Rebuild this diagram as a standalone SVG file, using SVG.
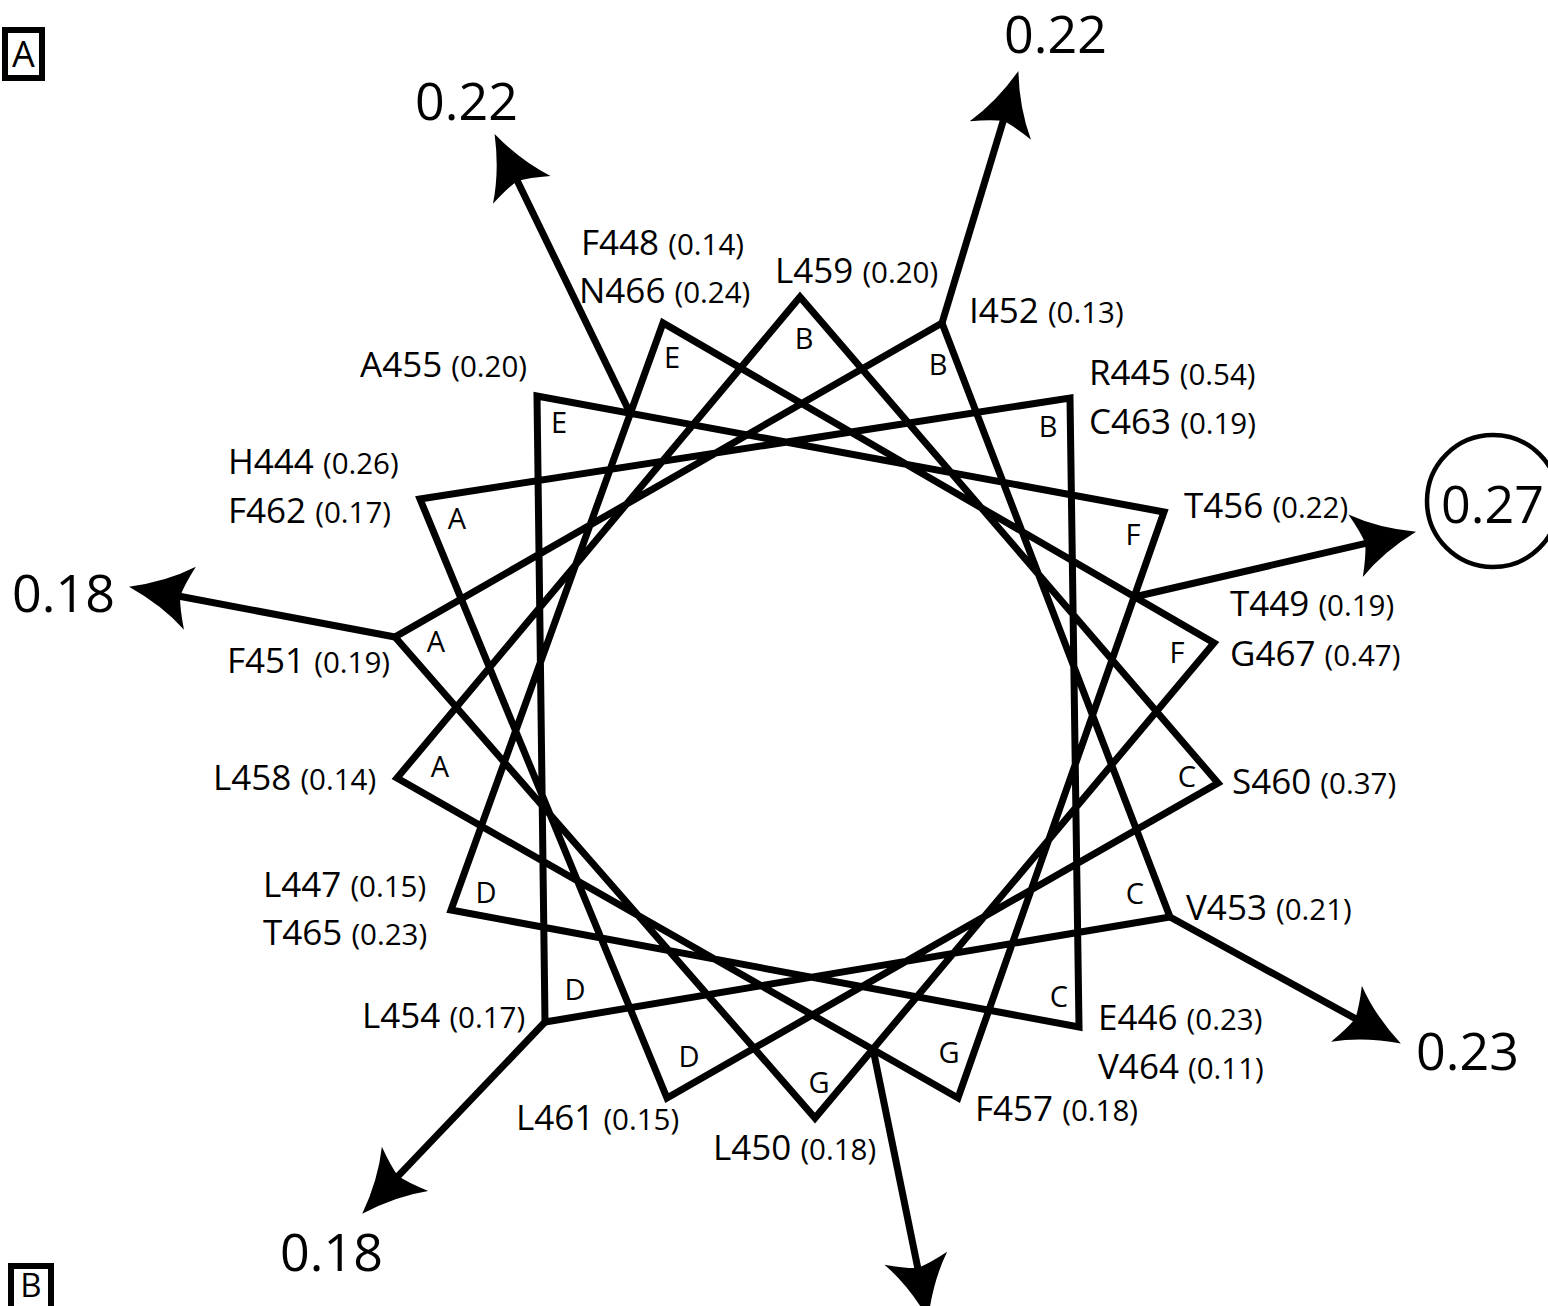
<svg xmlns="http://www.w3.org/2000/svg" width="1548" height="1306" viewBox="0 0 1548 1306">
  <defs>
    <style>
      text { font-family: "Open Sans", "Noto Sans", "DejaVu Sans", sans-serif; fill: #000; }
      .res { font-size: 35px; }
      .res tspan { font-size: 29.5px; }
      .pos { font-size: 29px; text-anchor: middle; }
      .mag { font-size: 52px; }
      .panel-letter { font-size: 36px; text-anchor: middle; }
      .wheel { fill: none; stroke: #000; stroke-width: 7; stroke-linejoin: miter; stroke-miterlimit: 10; }
      .vec { fill: none; stroke: #000; stroke-width: 7; marker-end: url(#head); }
      .panel { fill: #fff; stroke: #000; stroke-width: 6; }
      .ring { fill: none; stroke: #000; stroke-width: 4.5; }
    </style>
    <!-- swept-back arrowhead; the shaft ends at the notch, the tip lies 46 units further on -->
    <marker id="head" markerUnits="userSpaceOnUse" orient="auto" viewBox="-20 -35 70 70" markerWidth="70" markerHeight="70" refX="0" refY="0" overflow="visible">
      <path d="M46,0 Q10,-12 -16,-32 Q-8,-12 -6,0 Q-8,12 -16,32 Q10,12 46,0 Z" fill="#000"/>
    </marker>
  </defs>

  <rect width="1548" height="1306" fill="#fff"/>

  <!-- panel tags -->
  <g id="panel-a">
    <rect class="panel" x="5" y="30" width="37" height="48"/>
    <text class="panel-letter" x="23.5" y="67">A</text>
  </g>
  <g id="panel-b">
    <rect class="panel" x="11" y="1266" width="40" height="50"/>
    <text class="panel-letter" x="31" y="1297" style="font-size:33px">B</text>
  </g>

  <!-- helical wheel: residue i joined to residue i+1, 100 degrees apart -->
  <g id="connectors">
    <polygon class="wheel" points="420,499 1070,398 1079,1027 451,910 663,323 1214,643 815,1118 395,637 942,323 1170,917 545,1022 537,396 1164,512 958,1098 397,778 800,297 1218,783 667,1098"/>
  </g>

  <!-- hydrophobic moment vectors -->
  <g id="moments">
    <line class="vec" x1="630" y1="413" x2="514.7" y2="175.5"/>
    <line class="vec" x1="942" y1="323" x2="1005" y2="115.1"/>
    <line class="vec" x1="1134" y1="597" x2="1371.2" y2="542.1"/>
    <line class="vec" x1="395" y1="637" x2="174.2" y2="595.3"/>
    <line class="vec" x1="1170" y1="917" x2="1360.5" y2="1021.4"/>
    <line class="vec" x1="545" y1="1022" x2="394" y2="1180.4"/>
    <line class="vec" x1="873" y1="1049" x2="919" y2="1273.9"/>
    <text class="mag" x="415" y="120">0.22</text>
    <text class="mag" x="1004" y="53">0.22</text>
    <circle class="ring" cx="1493" cy="501" r="66"/>
    <text class="mag" x="1441" y="523">0.27</text>
    <text class="mag" x="12" y="612">0.18</text>
    <text class="mag" x="1416" y="1070">0.23</text>
    <text class="mag" x="280" y="1271">0.18</text>
  </g>

  <!-- residues: position letter plus residue names with values -->
  <g id="r444">
    <text class="pos" x="457" y="529">A</text>
    <text class="res" x="228" y="474">H444 <tspan>(0.26)</tspan></text>
    <text class="res" x="228" y="523">F462 <tspan>(0.17)</tspan></text>
  </g>
  <g id="r445">
    <text class="pos" x="1048" y="437">B</text>
    <text class="res" x="1089" y="385">R445 <tspan>(0.54)</tspan></text>
    <text class="res" x="1089" y="434">C463 <tspan>(0.19)</tspan></text>
  </g>
  <g id="r446">
    <text class="pos" x="1059" y="1007">C</text>
    <text class="res" x="1098" y="1030">E446 <tspan>(0.23)</tspan></text>
    <text class="res" x="1098" y="1079">V464 <tspan>(0.11)</tspan></text>
  </g>
  <g id="r447">
    <text class="pos" x="486" y="903">D</text>
    <text class="res" x="263" y="897">L447 <tspan>(0.15)</tspan></text>
    <text class="res" x="263" y="945">T465 <tspan>(0.23)</tspan></text>
  </g>
  <g id="r448">
    <text class="pos" x="672" y="368">E</text>
    <text class="res" x="581" y="255">F448 <tspan>(0.14)</tspan></text>
    <text class="res" x="579" y="303">N466 <tspan>(0.24)</tspan></text>
  </g>
  <g id="r449">
    <text class="pos" x="1177" y="663">F</text>
    <text class="res" x="1230" y="616">T449 <tspan>(0.19)</tspan></text>
    <text class="res" x="1230" y="666">G467 <tspan>(0.47)</tspan></text>
  </g>
  <g id="r450">
    <text class="pos" x="819" y="1093">G</text>
    <text class="res" x="713" y="1160">L450 <tspan>(0.18)</tspan></text>
  </g>
  <g id="r451">
    <text class="pos" x="436" y="652">A</text>
    <text class="res" x="227" y="673">F451 <tspan>(0.19)</tspan></text>
  </g>
  <g id="r452">
    <text class="pos" x="938" y="375">B</text>
    <text class="res" x="969" y="323">I452 <tspan>(0.13)</tspan></text>
  </g>
  <g id="r453">
    <text class="pos" x="1135" y="904">C</text>
    <text class="res" x="1186" y="920">V453 <tspan>(0.21)</tspan></text>
  </g>
  <g id="r454">
    <text class="pos" x="575" y="1000">D</text>
    <text class="res" x="362" y="1028">L454 <tspan>(0.17)</tspan></text>
  </g>
  <g id="r455">
    <text class="pos" x="559" y="433">E</text>
    <text class="res" x="360" y="377">A455 <tspan>(0.20)</tspan></text>
  </g>
  <g id="r456">
    <text class="pos" x="1133" y="545">F</text>
    <text class="res" x="1184" y="518">T456 <tspan>(0.22)</tspan></text>
  </g>
  <g id="r457">
    <text class="pos" x="949" y="1063">G</text>
    <text class="res" x="975" y="1121">F457 <tspan>(0.18)</tspan></text>
  </g>
  <g id="r458">
    <text class="pos" x="440" y="777">A</text>
    <text class="res" x="213" y="790">L458 <tspan>(0.14)</tspan></text>
  </g>
  <g id="r459">
    <text class="pos" x="804" y="349">B</text>
    <text class="res" x="775" y="283">L459 <tspan>(0.20)</tspan></text>
  </g>
  <g id="r460">
    <text class="pos" x="1187" y="787">C</text>
    <text class="res" x="1232" y="794">S460 <tspan>(0.37)</tspan></text>
  </g>
  <g id="r461">
    <text class="pos" x="689" y="1067">D</text>
    <text class="res" x="516" y="1130">L461 <tspan>(0.15)</tspan></text>
  </g>
</svg>
